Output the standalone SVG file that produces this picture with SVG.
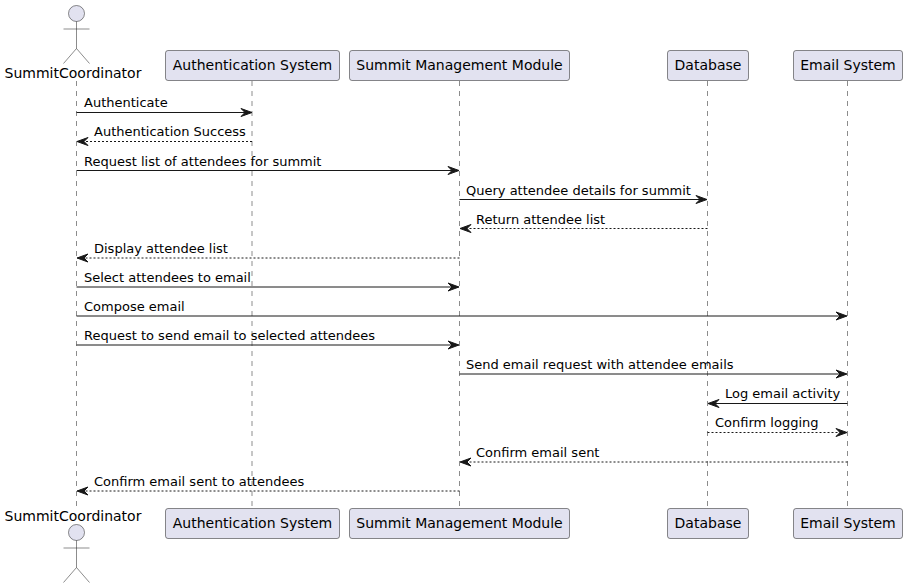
<svg xmlns="http://www.w3.org/2000/svg" width="907" height="588" viewBox="0 0 907 588">
<style>
text{font-family:"DejaVu Sans",sans-serif;fill:#000}
.p{font-size:14px;text-anchor:middle}
.m{font-size:13px}
.box{fill:#E2E2F0;stroke:#181818;stroke-width:.5}
.act{fill:none;stroke:#181818;stroke-width:.5}
.head{fill:#E2E2F0;stroke:#181818;stroke-width:.5}
.life{stroke:#181818;stroke-width:.5;stroke-dasharray:5,5;fill:none}
.s{stroke:#181818;stroke-width:1;fill:none}
.d{stroke:#181818;stroke-width:1;fill:none;stroke-dasharray:2,2}
.a{fill:#181818;stroke:#181818;stroke-width:1}
</style>
<defs>
<g id="ar"><polygon class="a" points="0,0 -11,-4 -7,0 -11,4"/></g>
<g id="al"><polygon class="a" points="0,0 11,-4 7,0 11,4"/></g>
</defs>
<g id="lifelines">
<line class="life" x1="76.5" y1="81" x2="76.5" y2="507"/>
<line class="life" x1="252" y1="81" x2="252" y2="507"/>
<line class="life" x1="459.5" y1="81" x2="459.5" y2="507"/>
<line class="life" x1="707.5" y1="81" x2="707.5" y2="507"/>
<line class="life" x1="847.5" y1="81" x2="847.5" y2="507"/>
</g>
<g id="actor-top">
<circle class="head" cx="76.5" cy="13.5" r="8"/>
<path class="act" d="M76.5 21.5V48.5M63.5 29H89.5M76.5 48.5L63.5 63.5M76.5 48.5L89.5 63.5"/>
<text class="p" x="73" y="78">SummitCoordinator</text>
</g>
<g id="auth-top"><rect class="box" x="165.5" y="50.5" width="174" height="30" rx="2.5"/><text class="p" x="252.5" y="70">Authentication System</text></g>
<g id="module-top"><rect class="box" x="349.5" y="50.5" width="220" height="30" rx="2.5"/><text class="p" x="459.5" y="70">Summit Management Module</text></g>
<g id="db-top"><rect class="box" x="667.5" y="50.5" width="81" height="30" rx="2.5"/><text class="p" x="708" y="70">Database</text></g>
<g id="email-top"><rect class="box" x="793.5" y="50.5" width="109" height="30" rx="2.5"/><text class="p" x="848" y="70">Email System</text></g>
<g id="connectors">
<line class="s" x1="76.5" y1="112.5" x2="251" y2="112.5"/><use href="#ar" x="252" y="112.5"/>
<line class="d" x1="252" y1="141.5" x2="78" y2="141.5"/><use href="#al" x="77" y="141.5"/>
<line class="s" x1="76.5" y1="170.5" x2="458" y2="170.5"/><use href="#ar" x="459" y="170.5"/>
<line class="s" x1="459.5" y1="199.5" x2="706" y2="199.5"/><use href="#ar" x="707" y="199.5"/>
<line class="d" x1="707.5" y1="228.5" x2="461" y2="228.5"/><use href="#al" x="460" y="228.5"/>
<line class="d" x1="459.5" y1="258" x2="78" y2="258"/><use href="#al" x="77" y="258"/>
<line class="s" x1="76.5" y1="287" x2="458" y2="287"/><use href="#ar" x="459" y="287"/>
<line class="s" x1="76.5" y1="316" x2="846" y2="316"/><use href="#ar" x="847" y="316"/>
<line class="s" x1="76.5" y1="345" x2="458" y2="345"/><use href="#ar" x="459" y="345"/>
<line class="s" x1="459.5" y1="374" x2="846" y2="374"/><use href="#ar" x="847" y="374"/>
<line class="s" x1="847.5" y1="403.5" x2="709" y2="403.5"/><use href="#al" x="708" y="403.5"/>
<line class="d" x1="707.5" y1="432.5" x2="846" y2="432.5"/><use href="#ar" x="847" y="432.5"/>
<line class="d" x1="847.5" y1="462" x2="461" y2="462"/><use href="#al" x="460" y="462"/>
<line class="d" x1="459.5" y1="491" x2="78" y2="491"/><use href="#al" x="77" y="491"/>
<text class="m" x="84" y="107">Authenticate</text>
<text class="m" x="94" y="136">Authentication Success</text>
<text class="m" x="84" y="165.5">Request list of attendees for summit</text>
<text class="m" x="466" y="194.5">Query attendee details for summit</text>
<text class="m" x="476" y="223.5">Return attendee list</text>
<text class="m" x="94" y="252.5">Display attendee list</text>
<text class="m" x="84" y="281.5">Select attendees to email</text>
<text class="m" x="84" y="310.5">Compose email</text>
<text class="m" x="84" y="340">Request to send email to selected attendees</text>
<text class="m" x="466" y="369">Send email request with attendee emails</text>
<text class="m" x="725" y="398">Log email activity</text>
<text class="m" x="715" y="427">Confirm logging</text>
<text class="m" x="476" y="456.5">Confirm email sent</text>
<text class="m" x="94" y="485.5">Confirm email sent to attendees</text>
</g>
<g id="actor-bottom">
<text class="p" x="73" y="521">SummitCoordinator</text>
<circle class="head" cx="76.5" cy="532.5" r="8"/>
<path class="act" d="M76.5 540.5V567.5M63.5 548H89.5M76.5 567.5L63.5 582.5M76.5 567.5L89.5 582.5"/>
</g>
<g id="auth-bottom"><rect class="box" x="165.5" y="508.5" width="174" height="30" rx="2.5"/><text class="p" x="252.5" y="528">Authentication System</text></g>
<g id="module-bottom"><rect class="box" x="349.5" y="508.5" width="220" height="30" rx="2.5"/><text class="p" x="459.5" y="528">Summit Management Module</text></g>
<g id="db-bottom"><rect class="box" x="667.5" y="508.5" width="81" height="30" rx="2.5"/><text class="p" x="708" y="528">Database</text></g>
<g id="email-bottom"><rect class="box" x="793.5" y="508.5" width="109" height="30" rx="2.5"/><text class="p" x="848" y="528">Email System</text></g>
</svg>
